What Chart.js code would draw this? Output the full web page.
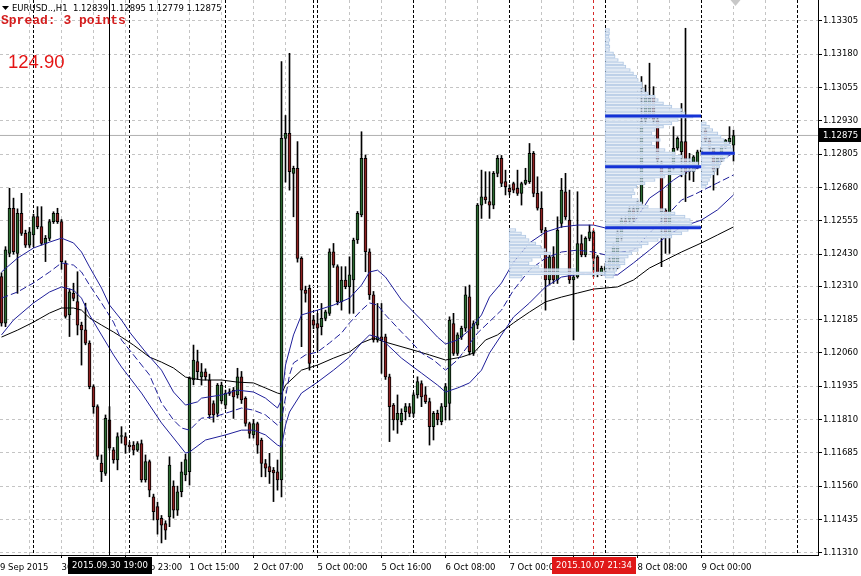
<!DOCTYPE html>
<html><head><meta charset="utf-8">
<script src="https://cdn.jsdelivr.net/npm/chart.js@4.4.1/dist/chart.umd.min.js"></script>
<style>html,body{margin:0;padding:0;background:#fff;overflow:hidden}canvas{display:block}</style>
</head><body>
<canvas id="c" width="861" height="576"></canvas>
<script>
// ---------- DATA (EURUSD H1, one value per candle, index 0 = first visible bar) ----------
const candleOpen = [1.12346,1.12171,1.12433,1.12602,1.12433,1.12583,1.12508,1.12464,1.12502,1.12571,
1.12533,1.12470,1.12489,1.12552,1.12583,1.12552,1.12396,1.12202,1.12283,1.12252,
1.12164,1.12146,1.12096,1.11933,1.11858,1.11646,1.11608,1.11808,1.11696,1.11658,
1.11746,1.11746,1.11714,1.11714,1.11695,1.11720,1.11583,1.11652,1.11520,1.11483,
1.11439,1.11420,1.11445,1.11560,1.11470,1.11539,1.11602,1.11614,1.11958,1.12027,
1.11970,1.11989,1.11958,1.11870,1.11833,1.11880,1.11864,1.11908,1.11920,1.11902,
1.11970,1.11889,1.11795,1.11752,1.11795,1.11733,1.11645,1.11633,1.11620,1.11614,
1.11583,1.12864,1.12883,1.12733,1.12752,1.12414,1.12295,1.12302,1.12183,1.12170,
1.12158,1.12189,1.12208,1.12439,1.12383,1.12252,1.12333,1.12308,1.12333,1.12483,
1.12577,1.12789,1.12439,1.12277,1.12108,1.12120,1.12120,1.11970,1.11864,1.11808,
1.11802,1.11839,1.11858,1.11833,1.11902,1.11945,1.11902,1.11877,1.11783,1.11833,
1.11802,1.11858,1.11870,1.12170,1.12058,1.12120,1.12152,1.12270,1.12058,1.12164,
1.12614,1.12645,1.12627,1.12614,1.12733,1.12789,1.12702,1.12677,1.12695,1.12677,
1.12658,1.12695,1.12702,1.12808,1.12658,1.12602,1.12520,1.12333,1.12420,1.12333,
1.12545,1.12664,1.12558,1.12333,1.12345,1.12470,1.12427,1.12489,1.12514,1.12420,
1.12358,1.12370,1.12377,1.12380,1.12383,1.12495,1.12558,1.12558,1.12600,1.12595,
1.12620,1.12933,1.12945,1.13020,1.12933,1.12770,1.12595,1.12508,1.12752,1.12827,
1.12814,1.12852,1.12745,1.12739,1.12758,1.12814,1.12895,1.12858,1.12827,1.12752,
1.12783,1.12833,1.12852,1.12839];
const candleHigh = [1.12360,1.12458,1.12677,1.12640,1.12600,1.12658,1.12520,1.12530,1.12580,1.12608,
1.12608,1.12500,1.12560,1.12589,1.12602,1.12560,1.12405,1.12300,1.12321,1.12364,
1.12175,1.12246,1.12105,1.11940,1.11865,1.11677,1.11827,1.11858,1.11705,1.11760,
1.11783,1.11760,1.11725,1.11727,1.11727,1.11733,1.11677,1.11658,1.11530,1.11500,
1.11450,1.11430,1.11670,1.11580,1.11560,1.11650,1.11680,1.11970,1.12089,1.12070,
1.12020,1.12000,1.11980,1.11880,1.11945,1.11950,1.11920,1.11925,1.11930,1.12002,
1.11990,1.11895,1.11800,1.11810,1.11800,1.11740,1.11660,1.11683,1.11630,1.11658,
1.13152,1.12950,1.13183,1.12760,1.12852,1.12420,1.12310,1.12314,1.12200,1.12208,
1.12245,1.12220,1.12450,1.12470,1.12390,1.12383,1.12383,1.12420,1.12490,1.12590,
1.12889,1.12802,1.12450,1.12290,1.12245,1.12245,1.12130,1.11980,1.11870,1.11902,
1.11850,1.11870,1.11870,1.11910,1.11970,1.11955,1.11933,1.11890,1.11840,1.11845,
1.11870,1.11945,1.12195,1.12208,1.12135,1.12160,1.12308,1.12314,1.12180,1.12620,
1.12745,1.12739,1.12739,1.12740,1.12800,1.12800,1.12745,1.12690,1.12700,1.12745,
1.12700,1.12752,1.12845,1.12815,1.12720,1.12664,1.12530,1.12430,1.12458,1.12570,
1.12714,1.12733,1.12670,1.12360,1.12664,1.12502,1.12495,1.12539,1.12520,1.12425,
1.12385,1.12395,1.12420,1.12470,1.12520,1.12570,1.12580,1.12610,1.12610,1.12630,
1.13096,1.13064,1.13146,1.13058,1.12940,1.12780,1.12600,1.12760,1.12908,1.12870,
1.12995,1.13277,1.12808,1.12800,1.12820,1.12830,1.12900,1.12865,1.12830,1.12795,
1.12840,1.12860,1.12908,1.12895];
const candleLow = [1.12160,1.12158,1.12420,1.12430,1.12283,1.12500,1.12455,1.12455,1.12458,1.12525,
1.12464,1.12402,1.12480,1.12545,1.12545,1.12373,1.12190,1.12121,1.12255,1.12127,
1.12014,1.12090,1.11925,1.11833,1.11660,1.11577,1.11600,1.11695,1.11646,1.11621,
1.11721,1.11683,1.11690,1.11677,1.11690,1.11575,1.11575,1.11520,1.11433,1.11380,
1.11347,1.11360,1.11408,1.11440,1.11450,1.11520,1.11580,1.11564,1.11940,1.11960,
1.11939,1.11958,1.11814,1.11800,1.11820,1.11870,1.11850,1.11900,1.11814,1.11890,
1.11870,1.11785,1.11740,1.11740,1.11683,1.11595,1.11595,1.11570,1.11502,1.11545,
1.11520,1.12700,1.12670,1.12570,1.12400,1.12083,1.12250,1.11995,1.12150,1.12070,
1.12127,1.12180,1.12200,1.12380,1.12240,1.12220,1.12300,1.12208,1.12208,1.12470,
1.12570,1.12364,1.12260,1.12100,1.12100,1.11983,1.11960,1.11727,1.11770,1.11758,
1.11790,1.11808,1.11820,1.11820,1.11890,1.11858,1.11870,1.11714,1.11733,1.11790,
1.11790,1.11808,1.11808,1.12050,1.12050,1.12110,1.12140,1.12052,1.12050,1.12150,
1.12564,1.12620,1.12564,1.12600,1.12720,1.12683,1.12652,1.12652,1.12660,1.12650,
1.12614,1.12690,1.12695,1.12645,1.12595,1.12510,1.12220,1.12314,1.12320,1.12320,
1.12530,1.12560,1.12320,1.12108,1.12340,1.12420,1.12420,1.12480,1.12345,1.12345,
1.12350,1.12358,1.12370,1.12370,1.12375,1.12480,1.12530,1.12545,1.12550,1.12580,
1.12610,1.12920,1.12940,1.12920,1.12770,1.12383,1.12433,1.12433,1.12745,1.12820,
1.12720,1.12627,1.12708,1.12702,1.12750,1.12800,1.12850,1.12820,1.12670,1.12727,
1.12777,1.12827,1.12845,1.12779];
const candleClose = [1.12171,1.12446,1.12602,1.12439,1.12583,1.12508,1.12464,1.12514,1.12571,1.12533,
1.12470,1.12489,1.12552,1.12583,1.12552,1.12402,1.12196,1.12289,1.12264,1.12164,
1.12146,1.12096,1.11933,1.11858,1.11671,1.11614,1.11814,1.11702,1.11658,1.11746,
1.11748,1.11714,1.11708,1.11695,1.11720,1.11583,1.11652,1.11545,1.11464,1.11433,
1.11414,1.11395,1.11639,1.11470,1.11539,1.11614,1.11660,1.11964,1.12033,1.11989,
1.11989,1.11970,1.11827,1.11827,1.11939,1.11939,1.11908,1.11914,1.11895,1.11970,
1.11883,1.11795,1.11758,1.11795,1.11714,1.11645,1.11627,1.11614,1.11610,1.11583,
1.12864,1.12883,1.12739,1.12752,1.12414,1.12295,1.12283,1.12020,1.12164,1.12152,
1.12189,1.12214,1.12439,1.12389,1.12252,1.12333,1.12308,1.12352,1.12483,1.12583,
1.12789,1.12439,1.12277,1.12108,1.12120,1.12108,1.11970,1.11858,1.11808,1.11833,
1.11833,1.11858,1.11833,1.11902,1.11952,1.11895,1.11877,1.11783,1.11833,1.11808,
1.11858,1.11933,1.12183,1.12058,1.12127,1.12152,1.12277,1.12064,1.12170,1.12614,
1.12645,1.12633,1.12614,1.12733,1.12789,1.12695,1.12683,1.12664,1.12670,1.12658,
1.12695,1.12708,1.12808,1.12658,1.12602,1.12520,1.12333,1.12420,1.12333,1.12520,
1.12670,1.12570,1.12333,1.12345,1.12470,1.12427,1.12489,1.12514,1.12414,1.12358,
1.12377,1.12383,1.12408,1.12458,1.12508,1.12558,1.12545,1.12595,1.12560,1.12620,
1.12927,1.13020,1.13014,1.12933,1.12783,1.12589,1.12508,1.12752,1.12827,1.12864,
1.12852,1.12733,1.12739,1.12795,1.12814,1.12820,1.12858,1.12827,1.12745,1.12789,
1.12833,1.12858,1.12864,1.12875];

// moving averages, read at the bar indexes listed
const ma1Idx = [0,4,8,12,15,18,20,22,25,27,30,32,36,40,43,46,49,50,55,59,63,66,69,70,71,73,75,79,83,87,90,92,94,96,100,105,109,111,114,117,120,122,125,128,132,136,140,144,148,151,155,158,162,165,168,171,175,179,183];
const ma1 = [1.12363,1.12415,1.12453,1.12475,1.12490,1.12472,1.12438,1.12382,1.12303,1.12239,1.12183,1.12138,1.12063,1.11995,1.11913,1.11864,1.11876,1.11890,1.11902,1.11920,1.11913,1.11890,1.11853,1.11883,1.12014,1.12127,1.12202,1.12220,1.12239,1.12265,1.12314,1.12363,1.12370,1.12344,1.12258,1.12183,1.12119,1.12093,1.12108,1.12145,1.12202,1.12269,1.12322,1.12400,1.12472,1.12513,1.12532,1.12539,1.12539,1.12528,1.12535,1.12547,1.12640,1.12671,1.12708,1.12738,1.12757,1.12775,1.12809];
const ma2Idx = [0,4,8,12,15,18,20,22,25,28,30,33,37,40,43,45,47,50,53,57,60,63,66,69,70,72,73,76,79,82,85,87,90,92,94,96,100,102,105,108,111,114,119,125,128,132,136,140,144,148,151,155,158,162,166,170,173,179,183];
const ma2 = [1.12265,1.12288,1.12322,1.12363,1.12397,1.12389,1.12363,1.12314,1.12247,1.12175,1.12108,1.12052,1.11977,1.11872,1.11808,1.11778,1.11770,1.11815,1.11819,1.11838,1.11853,1.11845,1.11827,1.11789,1.11808,1.11977,1.12022,1.12052,1.12063,1.12097,1.12134,1.12172,1.12220,1.12247,1.12239,1.12202,1.12138,1.12108,1.12059,1.12033,1.11995,1.12033,1.12134,1.12220,1.12295,1.12370,1.12415,1.12438,1.12445,1.12438,1.12427,1.12438,1.12445,1.12509,1.12569,1.12633,1.12652,1.12697,1.12727];
const ma3Idx = [0,3,8,12,15,18,20,22,25,28,30,35,40,44,46,47,51,56,60,63,66,69,70,71,72,75,79,83,87,90,92,94,96,100,105,109,111,114,117,120,122,125,128,132,136,140,146,151,154,158,162,166,170,175,179,183];
const ma3 = [1.12127,1.12183,1.12247,1.12288,1.12307,1.12295,1.12265,1.12202,1.12127,1.12052,1.12007,1.11909,1.11797,1.11722,1.11684,1.11688,1.11733,1.11752,1.11770,1.11770,1.11752,1.11714,1.11707,1.11789,1.11838,1.11909,1.11950,1.11995,1.12044,1.12097,1.12127,1.12119,1.12097,1.12040,1.11984,1.11939,1.11913,1.11928,1.11947,1.11995,1.12059,1.12127,1.12194,1.12247,1.12307,1.12344,1.12359,1.12352,1.12352,1.12397,1.12445,1.12494,1.12532,1.12558,1.12596,1.12652];
const ma4Idx = [0,4,8,12,15,18,20,22,25,28,30,33,37,40,43,46,50,55,59,63,66,69,70,71,75,79,83,87,90,93,96,103,107,111,115,118,121,124,128,132,136,140,144,148,154,158,162,166,170,175,179,183];
const ma4 = [1.12119,1.12145,1.12175,1.12209,1.12228,1.12228,1.12220,1.12191,1.12164,1.12138,1.12119,1.12089,1.12044,1.12025,1.12003,1.11969,1.11958,1.11958,1.11950,1.11947,1.11928,1.11909,1.11905,1.11939,1.11995,1.12014,1.12040,1.12063,1.12097,1.12115,1.12100,1.12070,1.12052,1.12033,1.12044,1.12059,1.12108,1.12127,1.12172,1.12213,1.12251,1.12269,1.12284,1.12299,1.12307,1.12333,1.12378,1.12408,1.12438,1.12472,1.12502,1.12532];

// daily volume profiles: price level and relative length (in bars)
const vpDayStart = [126.9, 150.9, 174.9];
const vp7Price = [1.125205,1.12508,1.124955,1.12483,1.124705,1.12458,1.124455,1.12433,1.124205,1.12408,1.123955,1.12383,1.123705,1.12358,1.123455];
const vp7Len = [1.7,3.1,4.2,5.0,6.7,7.9,9.2,10.4,7.9,5.8,5.0,7.5,16.7,23.9,3.3];
const vp8Price = [1.132705,1.13258,1.132455,1.13233,1.132205,1.13208,1.131955,1.13183,1.131705,1.13158,
1.131455,1.13133,1.131205,1.13108,1.130955,1.13083,1.130705,1.13058,1.130455,1.13033,
1.130205,1.13008,1.129955,1.12983,1.129705,1.12958,1.129455,1.12933,1.129205,1.12908,
1.128955,1.12883,1.128705,1.12858,1.128455,1.12833,1.128205,1.12808,1.127955,1.12783,
1.127705,1.12758,1.127455,1.12733,1.127205,1.12708,1.126955,1.12683,1.126705,1.12658,
1.126455,1.12633,1.126205,1.12608,1.125955,1.12583,1.125705,1.12558,1.125455,1.12533,
1.125205,1.12508,1.124955,1.12483,1.124705,1.12458,1.124455,1.12433,1.124205,1.12408,
1.123955,1.12383,1.123705,1.12358,1.123455];
const vp8Len = [1.1,1.1,1.0,1.2,1.0,1.2,1.1,2.1,2.5,3.3,
4.6,5.2,6.3,7.1,7.9,8.3,9.2,9.3,9.8,10.8,
12.5,13.3,14.6,16.7,19.2,20.0,22.0,18.3,16.7,14.6,
12.5,11.7,12.5,13.8,11.7,12.5,15.0,17.5,19.2,21.7,
23.3,23.7,22.5,20.0,15.0,12.5,10.0,7.9,7.1,7.5,
6.7,8.3,9.2,10.8,15.0,17.5,20.0,21.3,21.7,23.7,
20.8,19.2,16.7,13.3,10.8,9.2,8.3,6.7,5.8,5.0,
5.0,3.8,2.9,2.5,2.1];
const vp9Price = [1.129205,1.12908,1.128955,1.12883,1.128705,1.12858,1.128455,1.12833,1.128205,1.12808,1.127955,1.12783,1.127705,1.12758,1.127455,1.12733,1.127205,1.12708,1.126955,1.12683];
const vp9Len = [1.3,2.1,2.9,4.2,5.0,5.8,7.1,7.5,7.9,8.1,6.7,5.8,5.0,4.6,3.8,3.3,2.5,2.1,1.7,1.3];
// value-area / POC levels of the profiles [price, fromBar, toBar]
const vaLevels = [[1.12948,150.9,174.9],[1.12758,150.9,174.9],[1.12529,150.9,174.9],[1.12808,174.9,183.3]];

// ticks & labels
const yTickLabels = ['1.13305','1.13180','1.13055','1.12930','1.12805','1.12680','1.12555','1.12430','1.12310','1.12185','1.12060','1.11935','1.11810','1.11685','1.11560','1.11435','1.11310'];
const xGridIdx = [-1,7,15,23,31,39,47,55,63,71,79,87,95,103,111,119,127,135,143,151,159,167,175,183,191,199];
const xSepIdx = [8,32,56,78,79,103,127,151,175,199];
const xTickIdx = [-1.75,15,31,47,63,79,95,111,127,143,159,175];
const xTickLabels = ['29 Sep 2015','30 Sep 07:00','30 Sep 23:00','1 Oct 15:00','2 Oct 07:00','5 Oct 00:00','5 Oct 16:00','6 Oct 08:00','7 Oct 00:00','7 Oct 16:00','8 Oct 08:00','9 Oct 00:00'];

const bidPrice = 1.12875;
const crossIdx = 27, crossLabel = '2015.09.30 19:00';
const markIdx = 148, markLabel = '2015.10.07 21:34';
const headingText = 'EURUSD..,H1  1.12839 1.12895 1.12779 1.12875';
const spreadText = 'Spread: 3 points';
const valueText = '124.90';

// ---------- CHART ----------
const X_MIN = -0.375, X_MAX = 204.125, Y_MIN = 1.1130175, Y_MAX = 1.13383;
const BULL = '#2b6a30', BEAR = '#8e2121', MA_BLUE = '#1f1f9a';
const idx = candleOpen.map((_, i) => i);

const wickData = idx.map(i => ({x: i, y: [candleLow[i], candleHigh[i]]}));
const bodyData = idx.map(i => ({x: i, y: [candleOpen[i], candleClose[i]]}));
const bodyColors = idx.map(i => candleClose[i] >= candleOpen[i] ? BULL : BEAR);
const maLine = (ix, vals) => ix.map((k, j) => ({x: k, y: vals[j]}));
const vpData = (prices, lens, start) => prices.map((p, j) => ({y: p, x: [start, start + lens[j]]}));

const datasets = [
  {type: 'line', label: 'cross', data: [{x: crossIdx, y: Y_MIN}, {x: crossIdx, y: Y_MAX}], borderColor: '#000', borderWidth: 1, pointRadius: 0, order: 0},
  {type: 'line', label: 'mark', data: [{x: markIdx, y: Y_MIN}, {x: markIdx, y: Y_MAX}], borderColor: '#d62a2a', borderWidth: 1, borderDash: [3, 3], pointRadius: 0, order: 1},
];
vaLevels.forEach((v, j) => datasets.push({type: 'line', label: 'va' + j, data: [{x: v[1], y: v[0]}, {x: v[2], y: v[0]}], borderColor: '#1432d6', borderWidth: 3, pointRadius: 0, order: 2}));
[[vp7Price, vp7Len, vpDayStart[0]], [vp8Price, vp8Len, vpDayStart[1]], [vp9Price, vp9Len, vpDayStart[2]]].forEach((p, j) => datasets.push({
  type: 'bar', label: 'vp' + j, indexAxis: 'y', grouped: false, data: vpData(p[0], p[1], p[2]),
  backgroundColor: 'rgba(255,255,255,0.6)', borderColor: '#b3c9e4', borderWidth: 1, borderSkipped: false, barThickness: 3, order: 3}));
datasets.push(
  {type: 'line', label: 'ma1', data: maLine(ma1Idx, ma1), borderColor: MA_BLUE, borderWidth: 1, pointRadius: 0, tension: 0, order: 5},
  {type: 'line', label: 'ma2', data: maLine(ma2Idx, ma2), borderColor: MA_BLUE, borderWidth: 1, borderDash: [7, 3], pointRadius: 0, tension: 0, order: 5},
  {type: 'line', label: 'ma3', data: maLine(ma3Idx, ma3), borderColor: MA_BLUE, borderWidth: 1, pointRadius: 0, tension: 0, order: 5},
  {type: 'line', label: 'ma4', data: maLine(ma4Idx, ma4), borderColor: '#000', borderWidth: 1, pointRadius: 0, tension: 0, order: 5},
  {type: 'bar', label: 'body', data: bodyData, backgroundColor: bodyColors, borderColor: '#000', borderWidth: 1, borderSkipped: false, barThickness: 3, minBarLength: 1, grouped: false, order: 8},
  {type: 'bar', label: 'wick', data: wickData, backgroundColor: '#000', borderWidth: 0, barThickness: 1, minBarLength: 1, grouped: false, order: 9},
  {type: 'line', label: 'bid', data: [{x: X_MIN, y: bidPrice}, {x: X_MAX, y: bidPrice}], borderColor: '#b0b0b0', borderWidth: 1, pointRadius: 0, order: 20}
);

const FONT = {family: 'DejaVu Sans', size: 8.5};
const overlays = {
  id: 'overlays',
  afterDraw(chart) {
    const {ctx, chartArea} = chart;
    const xs = chart.scales.x, ys = chart.scales.y;
    ctx.save();
    // heading
    ctx.fillStyle = '#000';
    ctx.beginPath(); ctx.moveTo(2, 6); ctx.lineTo(9, 6); ctx.lineTo(5.5, 10); ctx.closePath(); ctx.fill();
    ctx.font = '8.5px "DejaVu Sans"'; ctx.textAlign = 'left'; ctx.textBaseline = 'alphabetic';
    ctx.fillText(headingText, 12, 10.5);
    ctx.fillStyle = '#d41c1c'; ctx.font = 'bold 13px "Liberation Mono"';
    ctx.fillText(spreadText, 1, 24);
    ctx.fillStyle = '#e41414'; ctx.font = '18.5px "Liberation Sans"';
    ctx.fillText(valueText, 8, 68);
    // chart shift marker
    const sx = xs.getPixelForValue(candleOpen.length - 0.5);
    ctx.fillStyle = '#c8c8c8';
    ctx.beginPath(); ctx.moveTo(sx - 5, 0); ctx.lineTo(sx + 5, 0); ctx.lineTo(sx, 6); ctx.closePath(); ctx.fill();
    // time labels of crosshair and marker
    const timeBox = (text, k, bg) => {
      ctx.font = '8.5px "DejaVu Sans"';
      const w = Math.round(ctx.measureText(text).width + 8);
      const cx = Math.round(xs.getPixelForValue(k));
      ctx.fillStyle = bg; ctx.fillRect(cx - w / 2, chartArea.bottom + 2, w, 17);
      ctx.fillStyle = '#fff'; ctx.textAlign = 'center'; ctx.textBaseline = 'middle';
      ctx.fillText(text, cx, chartArea.bottom + 11);
    };
    timeBox(crossLabel, crossIdx, '#000');
    timeBox(markLabel, markIdx, '#e01818');
    // bid price box
    const py = Math.round(ys.getPixelForValue(bidPrice));
    ctx.fillStyle = '#000'; ctx.fillRect(chartArea.right + 1, py - 7, 42, 14);
    ctx.fillStyle = '#fff'; ctx.font = '8.5px "DejaVu Sans"'; ctx.textAlign = 'left'; ctx.textBaseline = 'middle';
    ctx.fillText(bidPrice.toFixed(5), chartArea.right + 5, py + 0.5);
    ctx.restore();
  }
};

new Chart(document.getElementById('c'), {
  type: 'bar',
  data: {datasets},
  plugins: [overlays],
  options: {
    responsive: false, animation: false, devicePixelRatio: 1, events: [],
    layout: {padding: 0},
    plugins: {legend: {display: false}, tooltip: {enabled: false}, title: {display: false}},
    scales: {
      x: {
        type: 'linear', position: 'bottom', min: X_MIN, max: X_MAX, offset: false, beginAtZero: false,
        afterBuildTicks: s => { s.ticks = [...new Set([...xGridIdx, ...xSepIdx, xTickIdx[0]])].sort((a, b) => a - b).map(v => ({value: v})); },
        afterFit: s => { s.height = 21; s.paddingLeft = 0; s.paddingRight = 0; s.paddingTop = 0; s.paddingBottom = 0; },
        grid: {
          offset: false, drawOnChartArea: true, lineWidth: 1, tickLength: 3,
          color: c => xSepIdx.includes(c.tick && c.tick.value) ? '#000' : '#c4c4c4',
          tickColor: c => xTickIdx.includes(c.tick && c.tick.value) ? '#000' : 'rgba(0,0,0,0)'
        },
        border: {display: true, color: '#000', width: 1, dash: c => xSepIdx.includes(c.tick && c.tick.value) ? [3, 2] : [3, 3]},
        ticks: {
          autoSkip: false, maxRotation: 0, minRotation: 0, align: 'start', padding: 5, color: '#000', font: FONT,
          callback: v => { const i = xTickIdx.indexOf(v); return i >= 0 ? xTickLabels[i] : ''; }
        }
      },
      y: {
        type: 'linear', position: 'right', min: Y_MIN, max: Y_MAX, beginAtZero: false, offset: false,
        afterBuildTicks: s => { s.ticks = yTickLabels.map(t => ({value: parseFloat(t)})); },
        afterFit: s => { s.width = 43; s.paddingTop = 0; s.paddingBottom = 0; s.paddingLeft = 0; s.paddingRight = 0; },
        grid: {offset: false, color: '#c4c4c4', lineWidth: 1, tickLength: 4, tickColor: '#000'},
        border: {display: true, color: '#000', width: 1, dash: [3, 3]},
        ticks: {padding: 1, color: '#000', font: FONT, callback: (v, i) => yTickLabels[i]}
      }
    }
  }
});
</script>
</body></html>
